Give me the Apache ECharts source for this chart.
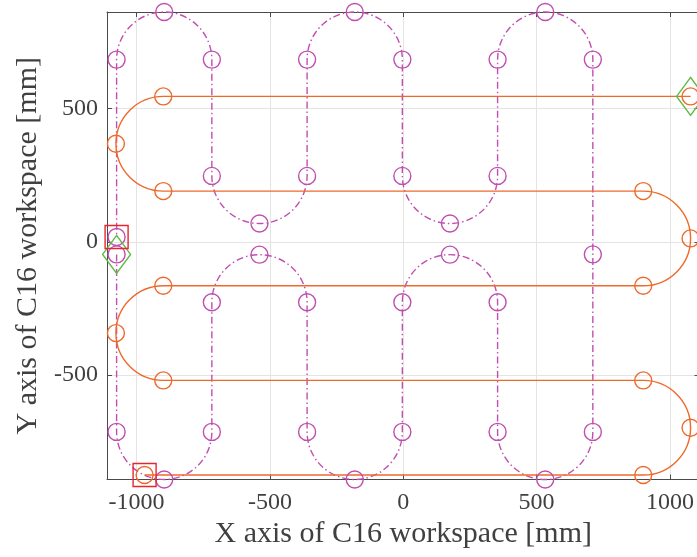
<!DOCTYPE html>
<html>
<head>
<meta charset="utf-8">
<title>C16 workspace paths</title>
<script src="https://cdn.jsdelivr.net/npm/echarts@6/dist/echarts.min.js"></script>
<style>
  html, body { margin: 0; padding: 0; background: #fff; overflow: hidden; }
  #chart { width: 700px; height: 557px; }
</style>
</head>
<body>
<div id="chart"></div>
<script>
// Axis ranges and ticks [mm]
const X_RANGE = [-1111, 1111];
const Y_RANGE = [-891.6, 861.6];
const X_TICKS = [-1000, -500, 0, 500, 1000];
const Y_TICKS = [-500, 0, 500];

// Horizontal sweep (solid): waypoints and the steps joining them
// 'L' = straight line to the next waypoint, 'S' = half circle through the next waypoint to the one after
const H_X = [1077.5, -900, -1077.5, -900, 900, 1077.5, 900, -900, -1077.5, -900, 900, 1077.5, 900, -970];
const H_Y = [545, 545, 367.5, 190, 190, 12.5, -165, -165, -342.5, -520, -520, -697.5, -875, -875];
const H_STEPS = ['L', 'S', 'L', 'S', 'L', 'S', 'L', 'S', 'L'];

// Vertical sweep (dash-dot)
const V_X = [-1075, -1075, -896.4, -717.8, -717.8, -539.2, -360.6, -360.6, -182.0, -3.4, -3.4, 175.2, 353.8,
             353.8, 532.4, 711.0, 711.0, 711.0, 532.4, 353.8, 353.8, 175.2, -3.4, -3.4, -182.0, -360.6,
             -360.6, -539.2, -717.8, -717.8, -896.4, -1075, -1075];
const V_Y = [-47.4, -713, -891.6, -713, -227, -48.4, -227, -713, -891.6, -713, -227, -48.4, -227,
             -713, -891.6, -713, -47.4, 683, 861.6, 683, 247, 68.4, 247, 683, 861.6, 683,
             247, 68.4, 247, 683, 861.6, 683, 18];
const V_STEPS = ['L', 'S', 'L', 'S', 'L', 'S', 'L', 'S', 'L', 'S', 'L', 'L', 'S', 'L', 'S', 'L', 'S', 'L', 'S', 'L', 'S', 'L'];

// Start (diamond) and end (square) points of both sweeps
const START_X = [1077.5, -1075];
const START_Y = [545, -47.4];
const END_X = [-970, -1075];
const END_Y = [-875, 18];

const ORANGE = '#ee6a2b';
const MAGENTA = '#c04faf';
const GREEN = '#5fbb45';
const RED = '#e6262f';
const TEXT = '#404040';
const AXIS = '#4a4a4a';
const FONT = '"Liberation Serif", "Times New Roman", serif';

const zip = (xs, ys) => xs.map((x, i) => [x, ys[i]]);

// Build one path element from waypoints, mapped through the axes
function sweepSeries(xs, ys, steps, color, dash) {
  return {
    type: 'custom',
    coordinateSystem: 'cartesian2d',
    xAxisIndex: 0,
    yAxisIndex: 0,
    silent: true,
    clip: false,
    z: 2,
    data: [[xs[0], ys[0]]],
    renderItem: function (params, api) {
      const p = xs.map((x, i) => api.coord([x, ys[i]]));
      let d = 'M' + p[0][0] + ' ' + p[0][1];
      let i = 0;
      steps.forEach(function (s) {
        if (s === 'L') {
          i += 1;
          d += ' L' + p[i][0] + ' ' + p[i][1];
        } else {
          const a = p[i], m = p[i + 1], b = p[i + 2];
          const r = Math.hypot(b[0] - a[0], b[1] - a[1]) / 2;
          const cross = (m[0] - a[0]) * (b[1] - m[1]) - (m[1] - a[1]) * (b[0] - m[0]);
          const sw = cross > 0 ? 1 : 0;
          d += ' A' + r + ' ' + r + ' 0 0 ' + sw + ' ' + m[0] + ' ' + m[1];
          d += ' A' + r + ' ' + r + ' 0 0 ' + sw + ' ' + b[0] + ' ' + b[1];
          i += 2;
        }
      });
      return {
        type: 'path',
        shape: { pathData: d },
        style: { fill: 'none', stroke: color, lineWidth: 1.4, lineDash: dash }
      };
    }
  };
}

function markerSeries(xs, ys, symbol, size, color, z) {
  return {
    type: 'scatter',
    xAxisIndex: 0,
    yAxisIndex: 0,
    data: zip(xs, ys),
    symbol: symbol,
    symbolSize: size,
    clip: false,
    silent: true,
    z: z,
    itemStyle: { color: 'rgba(0,0,0,0)', borderColor: color, borderWidth: 1.4, opacity: 1 },
    emphasis: { disabled: true }
  };
}

const tickStyle = { color: AXIS, width: 1 };

function xAxis(pos, labels) {
  return {
    type: 'value',
    position: pos,
    min: X_RANGE[0],
    max: X_RANGE[1],
    name: labels ? 'X axis of C16 workspace [mm]' : '',
    nameLocation: 'middle',
    nameGap: 40,
    nameTextStyle: { fontFamily: FONT, fontSize: 30, color: TEXT },
    axisLine: { show: true, onZero: false, lineStyle: tickStyle },
    axisTick: { show: true, inside: true, length: 5, customValues: X_TICKS, lineStyle: tickStyle },
    axisLabel: {
      show: labels, customValues: X_TICKS, margin: 11,
      fontFamily: FONT, fontSize: 24, color: TEXT,
      formatter: v => String(v)
    },
    splitLine: { show: labels, lineStyle: { color: '#e4e4e4', width: 1 } }
  };
}

function yAxis(pos, labels) {
  return {
    type: 'value',
    position: pos,
    min: Y_RANGE[0],
    max: Y_RANGE[1],
    name: labels ? 'Y axis of C16 workspace [mm]' : '',
    nameLocation: 'middle',
    nameGap: 63,
    nameTextStyle: { fontFamily: FONT, fontSize: 30, color: TEXT },
    axisLine: { show: true, onZero: false, lineStyle: tickStyle },
    axisTick: { show: true, inside: true, length: 5, customValues: Y_TICKS, lineStyle: tickStyle },
    axisLabel: {
      show: labels, customValues: Y_TICKS, margin: 9,
      fontFamily: FONT, fontSize: 24, color: TEXT,
      formatter: v => String(v)
    },
    splitLine: { show: labels, lineStyle: { color: '#e4e4e4', width: 1 } }
  };
}

const chart = echarts.init(document.getElementById('chart'), null, { renderer: 'canvas' });
chart.setOption({
  animation: false,
  backgroundColor: '#fff',
  grid: { left: 107, top: 12, width: 592.5, height: 467.5, outerBoundsMode: 'none', containLabel: false },
  xAxis: [xAxis('bottom', true), xAxis('top', false)],
  yAxis: [yAxis('left', true), yAxis('right', false)],
  series: [
    sweepSeries(V_X, V_Y, V_STEPS, MAGENTA, [7, 3, 1.5, 3]),
    sweepSeries(H_X, H_Y, H_STEPS, ORANGE, null),
    markerSeries(V_X, V_Y, 'circle', 17, MAGENTA, 3),
    markerSeries(H_X, H_Y, 'circle', 17, ORANGE, 4),
    markerSeries(START_X, START_Y, 'diamond', [28, 38], GREEN, 5),
    markerSeries(END_X, END_Y, 'rect', 23, RED, 5)
  ]
});
</script>
</body>
</html>
